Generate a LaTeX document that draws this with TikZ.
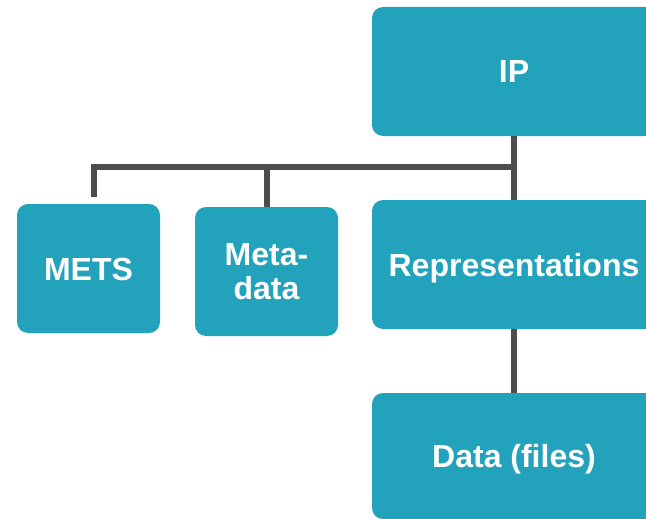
\documentclass[tikz,border=0pt]{standalone}
\usepackage{fontspec}
\setmainfont{Liberation Sans}
\definecolor{boxteal}{HTML}{22A2BB}
\definecolor{connGray}{HTML}{4D4D4D}
\begin{document}
\begin{tikzpicture}[x=1pt,y=-1pt,
  box/.style={rectangle, rounded corners=11pt, fill=boxteal, text=white,
    font=\fontsize{32}{34}\selectfont\bfseries, align=center, inner sep=0pt},
  oneline/.style={text height=23pt, text depth=0pt},
  conn/.style={draw=connGray, line width=6pt}]
\useasboundingbox (0,0) rectangle (646,519);
\node[box, oneline, minimum width=284pt, minimum height=129pt] (ip) at (514,71.5) {IP};
\node[box, oneline, minimum width=143pt, minimum height=129pt] (mets) at (88.5,268.5) {METS};
\node[box, minimum width=143pt, minimum height=129pt] (meta) at (266.5,271.5) {Meta-\\data};
\node[box, oneline, minimum width=284pt, minimum height=129pt] (rep) at (514,264.5) {Representations};
\node[box, oneline, minimum width=284pt, minimum height=126pt] (data) at (514,456) {Data (files)};
\coordinate (bus) at (514,167);
\coordinate (metsend) at (94,197);
\draw[conn] (ip.south) -- (bus);
\draw[conn] (metsend) |- (bus);
\draw[conn] (meta.north) -- (meta.north |- bus);
\draw[conn] (bus) -- (rep.north);
\draw[conn] (rep.south) -- (data.north);
\end{tikzpicture}
\end{document}
